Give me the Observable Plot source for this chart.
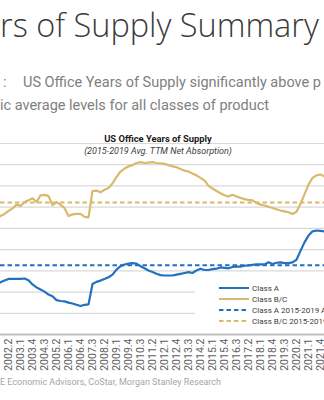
<!DOCTYPE html>
<html>
<head>
<meta charset="utf-8">
<script src="https://cdn.jsdelivr.net/npm/d3@7"></script>
<script src="https://cdn.jsdelivr.net/npm/@observablehq/plot@0.6"></script>
<style>
  html, body { margin: 0; padding: 0; background: #fff; }
  body { width: 324px; height: 400px; overflow: hidden; position: relative; font-family: Roboto, sans-serif; }
  .abs { position: absolute; white-space: nowrap; line-height: 1; }
  #chart { position: absolute; left: 0; top: 0; }
  #title { left: 0; top: 9px; font-family: "Open Sans", sans-serif; font-weight: 300; font-size: 32.5px; color: #3a3a3a; }
  .sub { font-size: 14.5px; color: #808080; }
  #ctitle { left: 158px; top: 133.8px; transform: translateX(-50%); font-weight: 700; font-size: 9.4px; color: #1a1a1a; }
  #csub { left: 158px; top: 146.9px; transform: translateX(-50%); font-style: italic; font-size: 9px; color: #404040; }
  #source { left: 0; top: 377.7px; font-size: 9px; color: #a6a6a6; }
  #legend { position: absolute; left: 195px; top: 279px; width: 129px; height: 49px; background: #fff; overflow: hidden; }
</style>
</head>
<body>
<div id="chart"></div>
<div class="abs" id="title">rs of Supply Summary</div>
<div class="abs sub" style="left:3px; top:75.8px;">:</div>
<div class="abs sub" style="left:23px; top:75.8px;">US Office Years of Supply significantly above p</div>
<div class="abs sub" style="left:0; top:98.8px;">ic average levels for all classes of product</div>
<div class="abs" id="ctitle">US Office Years of Supply</div>
<div class="abs" id="csub">(2015-2019 Avg. TTM Net Absorption)</div>
<div class="abs" id="source">E Economic Advisors, CoStar, Morgan Stanley Research</div>
<div id="legend"></div>
<script>
// Quarter categories (full axis domain)
const quarters = [
  "2000.1","2000.2","2000.3","2000.4","2001.1","2001.2","2001.3","2001.4",
  "2002.1","2002.2","2002.3","2002.4","2003.1","2003.2","2003.3","2003.4",
  "2004.1","2004.2","2004.3","2004.4","2005.1","2005.2","2005.3","2005.4",
  "2006.1","2006.2","2006.3","2006.4","2007.1","2007.2","2007.3","2007.4",
  "2008.1","2008.2","2008.3","2008.4","2009.1","2009.2","2009.3","2009.4",
  "2010.1","2010.2","2010.3","2010.4","2011.1","2011.2","2011.3","2011.4",
  "2012.1","2012.2","2012.3","2012.4","2013.1","2013.2","2013.3","2013.4",
  "2014.1","2014.2","2014.3","2014.4","2015.1","2015.2","2015.3","2015.4",
  "2016.1","2016.2","2016.3","2016.4","2017.1","2017.2","2017.3","2017.4",
  "2018.1","2018.2","2018.3","2018.4","2019.1","2019.2","2019.3","2019.4",
  "2020.1","2020.2","2020.3","2020.4","2021.1","2021.2","2021.3","2021.4",
  "2022.1"
];
// Tick labels shown on the x axis
const tickLabels = [
  "2002.2","2003.1","2003.4","2004.3","2005.2","2006.1","2006.4","2007.3",
  "2008.2","2009.1","2009.4","2010.3","2011.2","2012.1","2012.4","2013.3",
  "2014.2","2015.1","2015.4","2016.3","2017.2","2018.1","2018.4","2019.3",
  "2020.2","2021.1","2021.4"
];
// Series values (years of supply), 2001.3 .. 2022.1
const classA = [
  1.18,1.23,1.27,1.31,1.31,1.31,1.31,1.32,1.28,1.18,
  1.11,1.06,1.01,0.94,0.90,0.81,0.79,0.78,0.75,0.73,
  0.70,0.67,0.70,0.71,1.19,1.24,1.27,1.31,1.35,1.41,
  1.53,1.61,1.65,1.67,1.68,1.67,1.61,1.56,1.51,1.47,
  1.43,1.40,1.39,1.39,1.39,1.41,1.43,1.45,1.47,1.45,
  1.51,1.55,1.52,1.52,1.54,1.55,1.58,1.57,1.56,1.59,
  1.60,1.60,1.62,1.63,1.64,1.65,1.65,1.65,1.70,1.66,
  1.69,1.70,1.68,1.68,1.70,1.76,1.97,2.17,2.33,2.43,
  2.45,2.44,2.43
];
const classBC = [
  2.73,2.79,2.84,2.91,2.97,3.06,3.03,3.12,3.16,3.21,
  3.12,3.28,3.29,3.26,3.05,3.12,3.06,2.98,2.79,2.83,
  2.84,2.84,2.77,2.76,3.38,3.39,3.35,3.41,3.45,3.56,
  3.71,3.84,3.91,3.96,3.99,4.04,4.06,4.04,4.05,4.06,
  4.04,4.03,4.02,3.99,3.96,3.94,3.90,3.86,3.84,3.79,
  3.75,3.69,3.63,3.50,3.44,3.38,3.33,3.28,3.25,3.29,
  3.25,3.22,3.19,3.17,3.16,3.10,3.06,3.04,3.01,2.98,
  2.95,2.92,2.90,2.88,2.84,2.89,3.08,3.30,3.53,3.69,
  3.75,3.77,3.72
];
const averages = [
  {series: "Class A 2015-2019 Avg.", value: 1.63},
  {series: "Class B/C 2015-2019 Avg.", value: 3.11}
];
const gridValues = [0.5, 1, 1.5, 2, 2.5, 3, 3.5, 4, 4.5];
const seriesNames = ["Class A", "Class B/C"];

const blue = "#2470c0";
const gold = "#d8ba6c";

const dataQuarters = quarters.slice(quarters.indexOf("2001.3"));
const rows = [];
dataQuarters.forEach((q, i) => {
  rows.push({q, v: classA[i], s: seriesNames[0]});
  rows.push({q, v: classBC[i], s: seriesNames[1]});
});

const chart = Plot.plot({
  width: 324,
  height: 400,
  marginTop: 143,
  marginBottom: 66,
  marginLeft: 0,
  marginRight: 0,
  style: {fontFamily: "Roboto, sans-serif", fontSize: "10.5px", color: "#606060", background: "transparent"},
  x: {
    type: "point",
    domain: quarters,
    range: [-29.4, 326.12],
    padding: 0,
    ticks: tickLabels,
    tickRotate: -90,
    tickSize: 0,
    tickPadding: 4,
    label: null
  },
  y: {domain: [0, 4.5], axis: null},
  marks: [
    Plot.ruleY(gridValues, {stroke: "#d9d9d9", strokeWidth: 1.2}),
    Plot.ruleY([0], {stroke: "#bfbfbf", strokeWidth: 1.8}),
    Plot.ruleY(averages, {y: "value", stroke: (d, i) => i, strokeWidth: 2, strokeDasharray: "4.5,3"}),
    Plot.line(rows, {x: "q", y: "v", z: "s", stroke: "s", strokeWidth: 2.2})
  ],
  color: {domain: [0, 1, ...seriesNames], range: [blue, gold, blue, gold]}
});
document.getElementById("chart").appendChild(chart);

// Legend
const legendItems = [
  {label: "Class A", color: blue, dash: null},
  {label: "Class B/C", color: gold, dash: null},
  {label: averages[0].series, color: blue, dash: "4.5,3"},
  {label: averages[1].series, color: gold, dash: "4.5,3"}
];
const lg = d3.select("#legend").append("svg").attr("width", 129).attr("height", 49);
legendItems.forEach((d, i) => {
  const y = 9 + i * 11;
  lg.append("line").attr("x1", 24).attr("x2", 54).attr("y1", y).attr("y2", y)
    .attr("stroke", d.color).attr("stroke-width", 2)
    .attr("stroke-dasharray", d.dash);
  lg.append("text").attr("x", 57).attr("y", y).attr("dy", "0.35em")
    .attr("font-family", "Roboto, sans-serif").attr("font-size", 8)
    .attr("fill", "#404040").text(d.label);
});
</script>
</body>
</html>
